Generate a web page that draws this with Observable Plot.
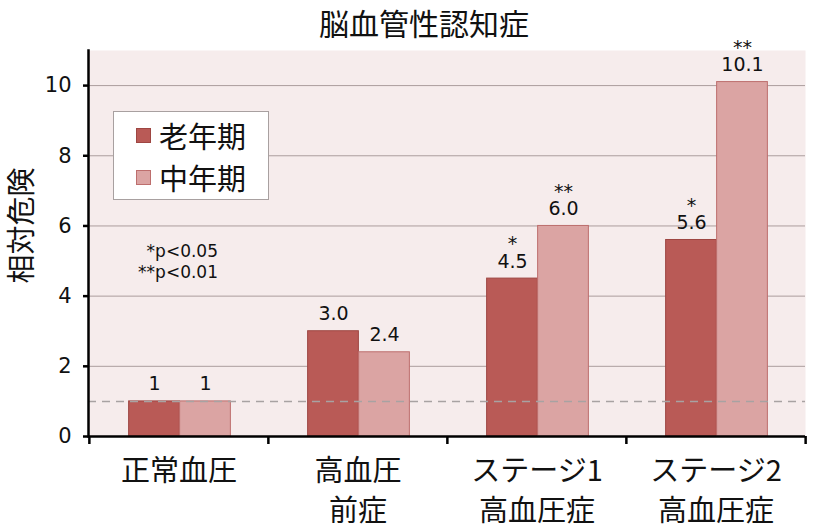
<!DOCTYPE html>
<html>
<head>
<meta charset="utf-8">
<script src="https://cdn.jsdelivr.net/npm/d3@7"></script>
<script src="https://cdn.jsdelivr.net/npm/@observablehq/plot@0.6"></script>
<style>
  html, body { margin: 0; padding: 0; background: #ffffff; }
  #wrap { position: relative; width: 820px; height: 531px; overflow: hidden; }
  #title { position: relative; z-index: 1; height: 30px; line-height: 44px; text-align: center; padding-left: 28px; box-sizing: border-box;
           font-family: "Noto Sans CJK JP", sans-serif; font-size: 30px; color: #111; }
  #legend { position: absolute; left: 113px; top: 111px; width: 156px; height: 89px; box-sizing: border-box;
            background: #ffffff; border: 1px solid #a8a0a0; font-family: "Noto Sans CJK JP", sans-serif; }
  .lrow { position: absolute; left: 0; height: 36px; display: flex; align-items: center; }
  .sw { width: 15px; height: 15px; margin-left: 22px; margin-right: 8px; box-sizing: border-box; }
  .lt { font-size: 29px; color: #111; line-height: 36px; }
  #notes { position: absolute; left: 120px; top: 241px; width: 98px; text-align: right;
           font-family: "DejaVu Sans", sans-serif; font-size: 17px; line-height: 21px; color: #111; }
</style>
</head>
<body>
<div id="wrap">
  <div id="title"></div>
  <div id="chart"></div>
  <div id="legend"></div>
  <div id="notes"></div>
</div>
<script>
const chartTitle = "脳血管性認知症";
const yLabel = "相対危険";
const categories = ["正常血圧", "高血圧\n前症", "ステージ1\n高血圧症", "ステージ2\n高血圧症"];
const seriesNames = ["老年期", "中年期"];
const elderly = [1, 3.0, 4.5, 5.6];
const middle = [1, 2.4, 6.0, 10.1];
const elderlyLabels = ["1", "3.0", "4.5", "5.6"];
const middleLabels = ["1", "2.4", "6.0", "10.1"];
const elderlySig = ["", "", "*", "*"];
const middleSig = ["", "", "**", "**"];
const yTicks = [0, 2, 4, 6, 8, 10];
const refLine = [1];
const notes = ["*p<0.05", "**p<0.01"];

const darkFill = "#b95a56", darkStroke = "#9e4642";
const lightFill = "#dba4a3", lightStroke = "#bd6e6d";
const numFont = "DejaVu Sans, sans-serif";
const jpFont = "Noto Sans CJK JP, sans-serif";

const withSig = (sig, label) => sig ? sig + "\n" + label : label;
const rows = categories.map((c, i) => ({
  category: c,
  elderly: elderly[i], middle: middle[i],
  elderlyText: withSig(elderlySig[i], elderlyLabels[i]),
  middleText: withSig(middleSig[i], middleLabels[i])
}));

const W = 820, H = 501, mL = 88, mR = 15, mT = 20, mB = 95;
const bw = (W - mL - mR) / categories.length;
const barW = 51;

document.getElementById("title").textContent = chartTitle;

const labelOpts = { lineAnchor: "bottom", lineHeight: 0.9, dy: -11, fontSize: 19, fontFamily: numFont, fill: "#111" };

const chart = Plot.plot({
  width: W, height: H,
  marginLeft: mL, marginRight: mR, marginTop: mT, marginBottom: mB,
  style: { fontFamily: jpFont, background: "transparent", color: "#111", overflow: "visible" },
  x: { type: "band", domain: categories, padding: 0 },
  y: { domain: [0, 11] },
  marks: [
    Plot.frame({ fill: "#f6ecec", stroke: null }),
    Plot.ruleY(yTicks.filter(d => d > 0), { stroke: "#ab9d9d", strokeWidth: 1 }),
    Plot.barY(rows, { x: "category", y: "elderly", fill: darkFill, stroke: darkStroke, strokeWidth: 1,
      insetLeft: bw / 2 - barW + 1, insetRight: bw / 2 - 1 }),
    Plot.barY(rows, { x: "category", y: "middle", fill: lightFill, stroke: lightStroke, strokeWidth: 1,
      insetLeft: bw / 2 + 1, insetRight: bw / 2 - barW - 1 }),
    Plot.ruleY(refLine, { stroke: "#a8a2a2", strokeWidth: 1.5, strokeDasharray: "8,6" }),
    Plot.text(rows, { x: "category", y: "elderly", text: "elderlyText", dx: -barW / 2 + 1, ...labelOpts }),
    Plot.text(rows, { x: "category", y: "middle", text: "middleText", dx: barW / 2 + 1, ...labelOpts }),
    Plot.axisY({ ticks: yTicks, tickSize: 5, tickPadding: 12, fontSize: 21, fontFamily: numFont,
      stroke: "#000", strokeWidth: 2.5, label: null }),
    Plot.axisX({ tickSize: 0, tickPadding: 16, fontSize: 29, lineHeight: 1.38, label: null, fill: "#111" }),
    Plot.frame({ anchor: "left", stroke: "#000", strokeWidth: 2.5 }),
    Plot.ruleY([0], { stroke: "#000", strokeWidth: 2.5 }),
    Plot.ruleX(categories, { x: d => d, dx: -bw / 2, y1: 0, y2: 0, insetBottom: -8, stroke: "#000", strokeWidth: 2.5 }),
    Plot.ruleX(categories.slice(-1), { x: d => d, dx: bw / 2, y1: 0, y2: 0, insetBottom: -8, stroke: "#000", strokeWidth: 2.5 }),
    Plot.text([yLabel], { frameAnchor: "left", textAnchor: "middle", text: d => d, rotate: -90, dx: -66, dy: -18,
      fontSize: 29, fill: "#111" })
  ]
});
document.getElementById("chart").appendChild(chart);

const legend = document.getElementById("legend");
const swFills = [[darkFill, darkStroke], [lightFill, lightStroke]];
seriesNames.forEach((name, i) => {
  const row = document.createElement("div");
  row.className = "lrow";
  row.style.top = (5 + i * 42) + "px";
  const sw = document.createElement("div");
  sw.className = "sw";
  sw.style.background = swFills[i][0];
  sw.style.border = "1px solid " + swFills[i][1];
  const t = document.createElement("span");
  t.className = "lt";
  t.textContent = name;
  row.appendChild(sw); row.appendChild(t);
  legend.appendChild(row);
});

const notesEl = document.getElementById("notes");
notes.forEach(n => { const d = document.createElement("div"); d.textContent = n; notesEl.appendChild(d); });
</script>
</body>
</html>
